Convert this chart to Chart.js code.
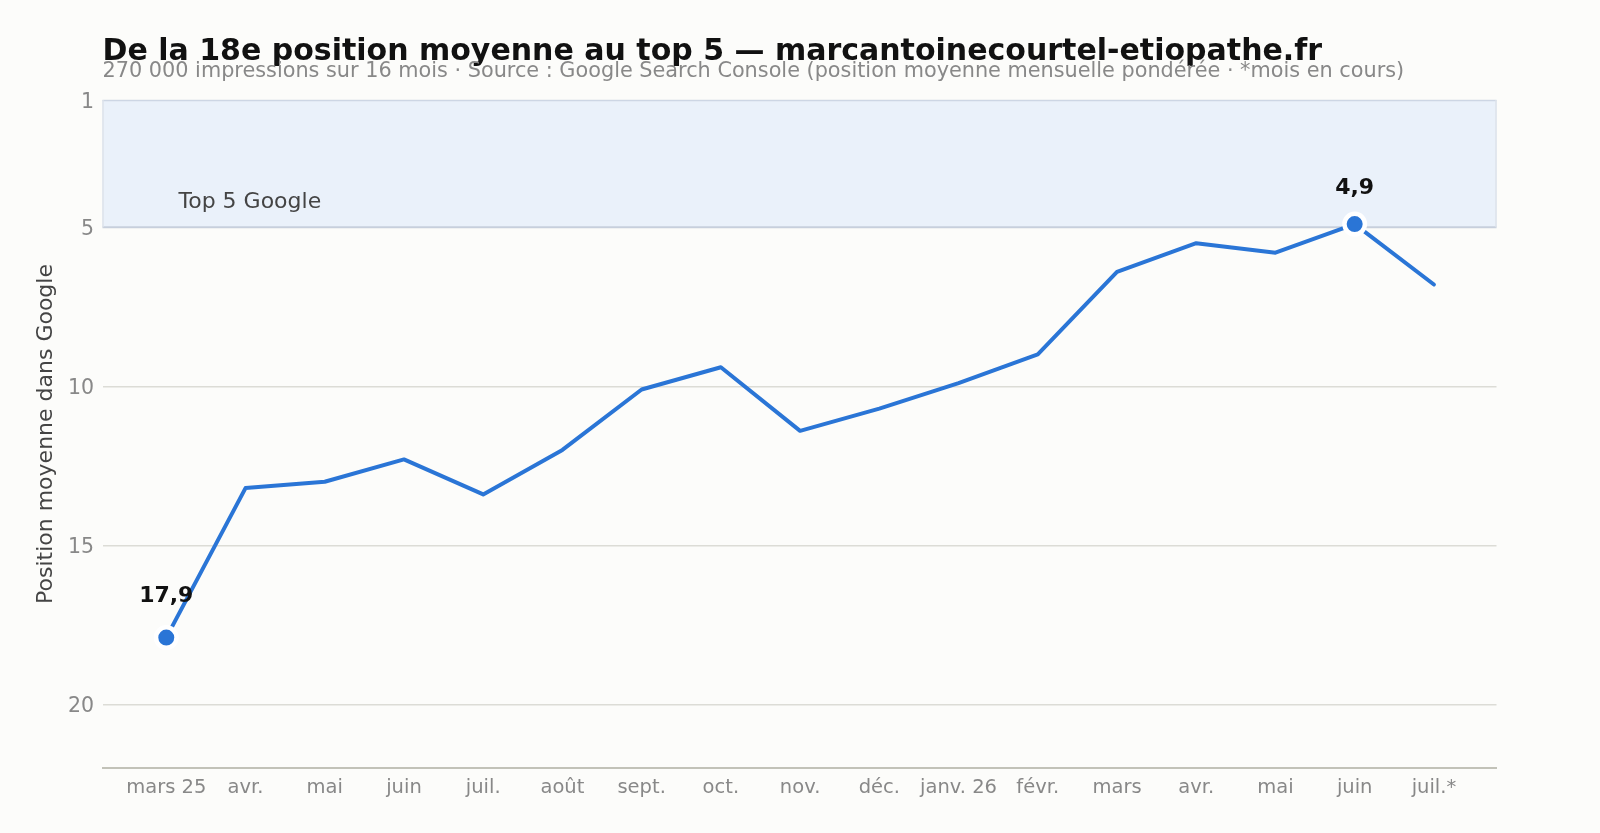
<!DOCTYPE html>
<html><head><meta charset="utf-8">
<script src="https://cdn.jsdelivr.net/npm/chart.js@4.4.1/dist/chart.umd.min.js"></script>
<style>html,body{margin:0;padding:0;background:#fcfcfa;overflow:hidden;}#wrap{width:1600px;height:833px;}</style>
</head><body><div id="wrap"><canvas id="c" width="1600" height="833"></canvas></div>
<script>
const months = ["mars 25","avr.","mai","juin","juil.","août","sept.","oct.","nov.","déc.","janv. 26","févr.","mars","avr.","mai","juin","juil.*"];
const positions = [17.9,13.2,13.0,12.3,13.4,12.0,10.1,9.4,11.4,10.7,9.9,9.0,6.4,5.5,5.8,4.9,6.8];
const yTicks = [1,5,10,15,20];
const labelledIdx = [0,15];
const bandTop = 1, bandBottom = 5;
const titleText = "De la 18e position moyenne au top 5 — marcantoinecourtel-etiopathe.fr";
const subtitleText = "270 000 impressions sur 16 mois · Source : Google Search Console (position moyenne mensuelle pondérée · *mois en cours)";
const bandLabel = "Top 5 Google";
const yTitle = "Position moyenne dans Google";
const FONT = "'DejaVu Sans', sans-serif";
const fmt = v => v.toFixed(1).replace('.', ',');
const labelGap = [41, 36];

const decor = {
  id:'decor',
  beforeDatasetsDraw(chart){
    const {ctx, chartArea:a, scales:{x,y}} = chart;
    ctx.save();
    const t = y.getPixelForValue(bandTop), b = y.getPixelForValue(bandBottom);
    ctx.fillStyle = '#eaf1fa';
    ctx.fillRect(a.left, t, a.right-a.left, b-t);
    ctx.strokeStyle = '#cdd6e4'; ctx.lineWidth = 1.5;
    ctx.beginPath(); ctx.moveTo(a.left,t+0.5); ctx.lineTo(a.right,t+0.5); ctx.stroke();
    ctx.strokeStyle = '#c7cfdc'; ctx.lineWidth = 2;
    ctx.beginPath(); ctx.moveTo(a.left,b); ctx.lineTo(a.right,b); ctx.stroke();
    ctx.strokeStyle = '#dde2ea'; ctx.lineWidth = 1.5;
    ctx.beginPath(); ctx.moveTo(a.left+0.5,t); ctx.lineTo(a.left+0.5,b); ctx.stroke();
    ctx.beginPath(); ctx.moveTo(a.right-0.5,t); ctx.lineTo(a.right-0.5,b); ctx.stroke();
    ctx.fillStyle = '#444';
    ctx.font = "22px " + FONT;
    ctx.textBaseline = 'middle'; ctx.textAlign = 'left';
    ctx.fillText(bandLabel, a.left + 76, y.getPixelForValue(4.2));
    ctx.restore();
  },
  afterDatasetsDraw(chart){
    const {ctx} = chart;
    const meta = chart.getDatasetMeta(0);
    ctx.save();
    ctx.fillStyle = '#111';
    ctx.font = "bold 22px " + FONT;
    ctx.textAlign = 'center'; ctx.textBaseline = 'middle';
    labelledIdx.forEach((i,k) => {
      const p = meta.data[i];
      ctx.fillText(fmt(positions[i]), p.x, p.y - labelGap[k]);
    });
    ctx.restore();
  },
  afterDraw(chart){
    const {ctx, chartArea:a} = chart;
    ctx.save();
    ctx.textAlign = 'left'; ctx.textBaseline = 'alphabetic';
    ctx.fillStyle = '#111';
    ctx.font = "bold 30px " + FONT;
    ctx.fillText(titleText, a.left, 60);
    ctx.fillStyle = '#888';
    ctx.font = "20.8px " + FONT;
    ctx.fillText(subtitleText, a.left, 77);
    ctx.translate(46, (a.top + a.bottom)/2);
    ctx.rotate(-Math.PI/2);
    ctx.textAlign = 'center'; ctx.textBaseline = 'middle';
    ctx.fillStyle = '#444';
    ctx.font = "22px " + FONT;
    ctx.fillText(yTitle, 0, 0);
    ctx.restore();
  }
};

new Chart(document.getElementById('c'), {
  type:'line',
  data:{
    datasets:[{
      data: positions.map((v,i)=>({x:i,y:v})),
      borderColor:'#2a75d6',
      backgroundColor:'#2a75d6',
      borderWidth:4,
      tension:0,
      pointRadius: ctx => labelledIdx.includes(ctx.dataIndex) ? 10.25 : 0,
      pointBorderColor:'#ffffff',
      pointBorderWidth:4.5,
      pointBackgroundColor:'#2a75d6',
      borderCapStyle:'round',
      borderJoinStyle:'round',
      clip:false
    }]
  },
  options:{
    responsive:false,
    animation:false,
    devicePixelRatio:1,
    layout:{padding:{top:100,right:103.5,left:0,bottom:0}},
    plugins:{legend:{display:false},tooltip:{enabled:false},title:{display:false}},
    scales:{
      x:{
        type:'linear', min:-0.805, max:16.79,
        afterBuildTicks: s => { s.ticks = months.map((m,i)=>({value:i})); },
        afterFit: s => { s.height = 65; },
        grid:{display:false, drawTicks:false},
        border:{display:true, color:'#c2c2b8', width:2},
        ticks:{ color:'#888', font:{family:FONT,size:19.5}, padding:8, maxRotation:0, autoSkip:false,
          callback:(v)=> months[v] }
      },
      y:{
        type:'linear', reverse:true, min:1, max:22,
        afterBuildTicks: s => { s.ticks = yTicks.map(v=>({value:v})); },
        afterFit: s => { s.width = 102.5; },
        grid:{ drawTicks:false, lineWidth:1.5,
          color: c => (c.tick && c.tick.value >= 10) ? '#dcdcd6' : 'rgba(0,0,0,0)' },
        border:{display:false},
        ticks:{ color:'#888', font:{family:FONT,size:20.5}, padding:8.5, labelOffset:2.5 }
      }
    }
  },
  plugins:[decor]
});
</script></body></html>
